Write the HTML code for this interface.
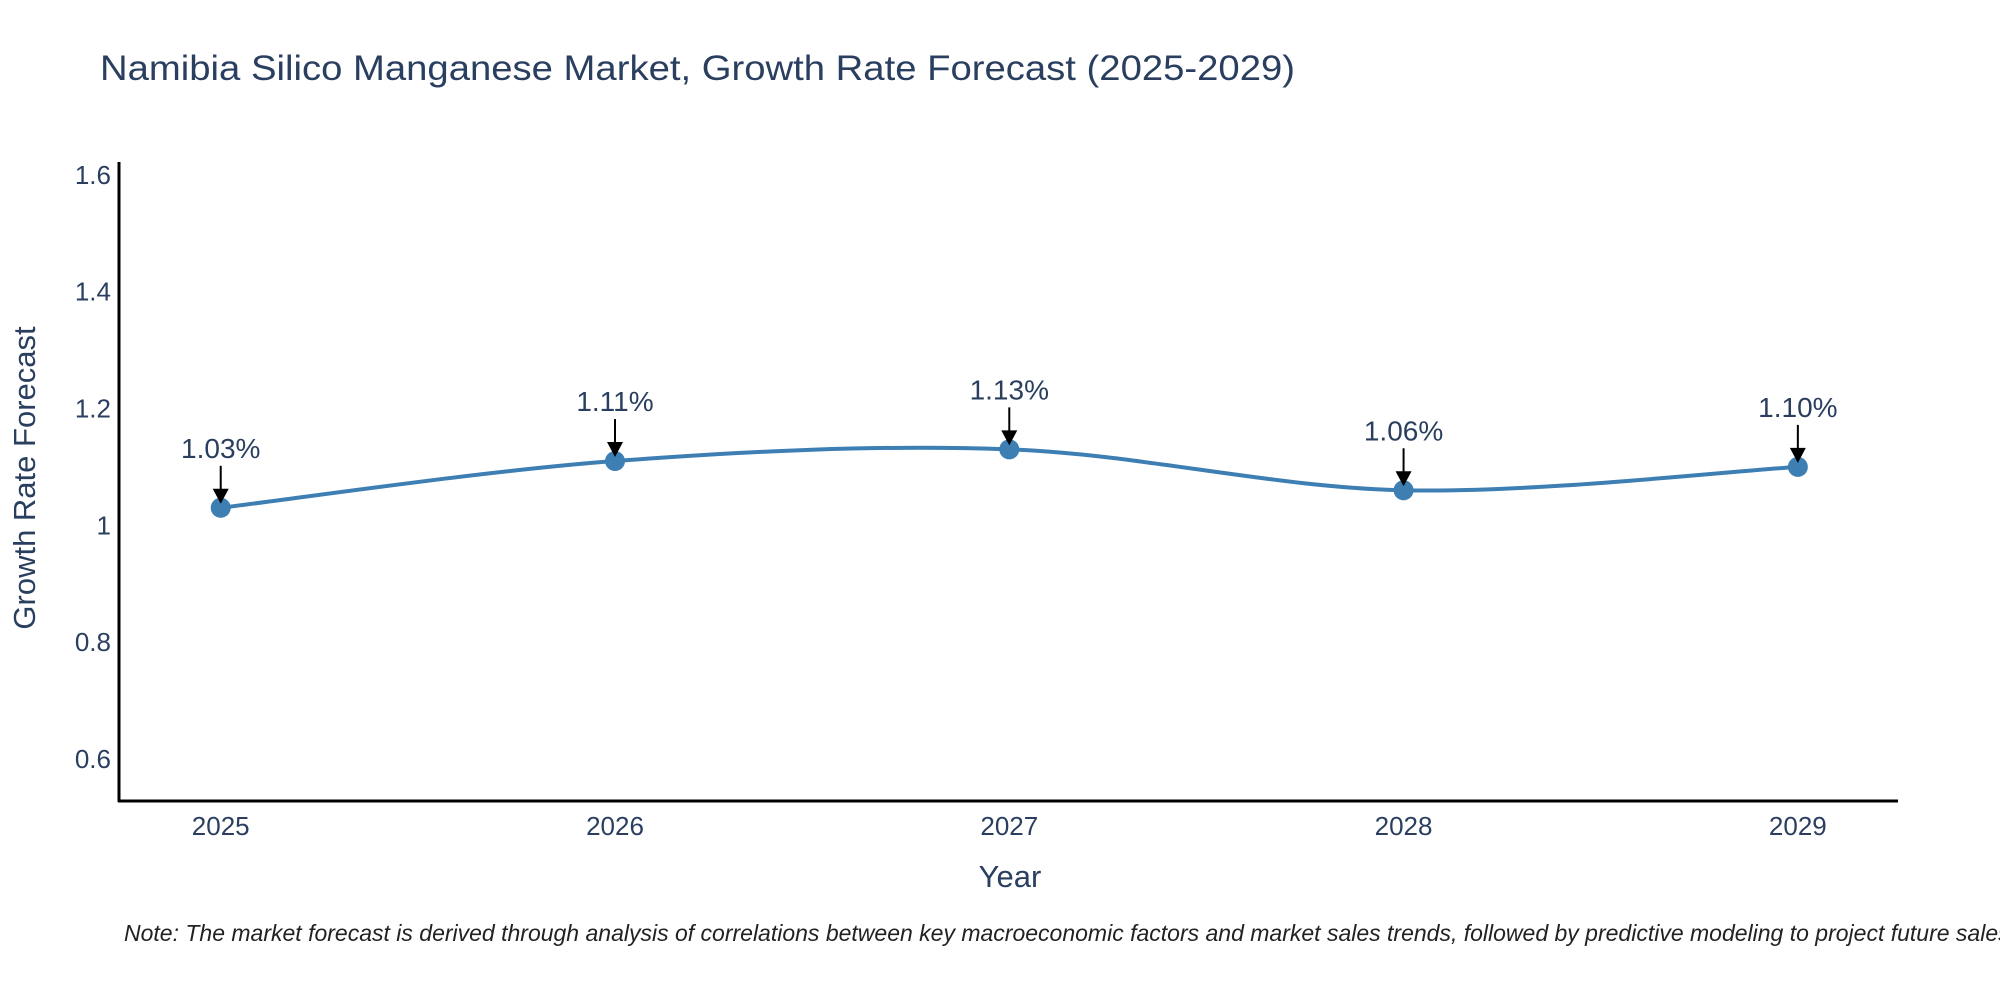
<!DOCTYPE html>
<html><head><meta charset="utf-8"><style>
html,body{margin:0;padding:0;background:#fff;width:2000px;height:1000px;overflow:hidden}
svg text{font-family:"Liberation Sans",sans-serif}
</style></head><body>
<svg id="chart" width="2000" height="1000" viewBox="0 0 2000 1000" xmlns="http://www.w3.org/2000/svg">
<text x="100" y="80" font-size="35" fill="#2a3f5f" textLength="1195" lengthAdjust="spacingAndGlyphs">Namibia Silico Manganese Market, Growth Rate Forecast (2025-2029)</text>
<g id="yticks"></g>
<g id="xticks"></g>
<line x1="119" y1="162" x2="119" y2="802" stroke="#000" stroke-width="3"/>
<line x1="118" y1="801" x2="1898" y2="801" stroke="#000" stroke-width="3"/>
<text transform="translate(35,478) rotate(-90)" text-anchor="middle" font-size="31" fill="#2a3f5f">Growth Rate Forecast</text>
<text x="1010" y="887" text-anchor="middle" font-size="31" fill="#2a3f5f">Year</text>
<g id="series"></g>
<g id="annots"></g>
<text x="124" y="941" font-size="23" font-style="italic" fill="#222">Note: The market forecast is derived through analysis of correlations between key macroeconomic factors and market sales trends, followed by predictive modeling to project future sales.</text>
</svg>
<script>
const years = [2025, 2026, 2027, 2028, 2029];
const values = [1.03, 1.11, 1.13, 1.06, 1.10];
const labels = ["1.03%", "1.11%", "1.13%", "1.06%", "1.10%"];
const yTickVals = [0.6, 0.8, 1.0, 1.2, 1.4, 1.6];
const yTickLabels = ["0.6", "0.8", "1", "1.2", "1.4", "1.6"];

const NS = "http://www.w3.org/2000/svg";
const X0 = 2025 - 0.259, X1 = 2029 + 0.254, PX0 = 118.6, PX1 = 1898;
const Y0 = 0.528, Y1 = 1.622, PY0 = 801, PY1 = 162;
function xs(v){return PX0 + (v - X0) / (X1 - X0) * (PX1 - PX0);}
function ys(v){return PY0 - (v - Y0) / (Y1 - Y0) * (PY0 - PY1);}
function mk(tag, attrs, parent){const e=document.createElementNS(NS,tag);for(const k in attrs)e.setAttribute(k,attrs[k]);parent.appendChild(e);return e;}

const yt = document.getElementById('yticks');
yTickVals.forEach((v,i)=>{
  const t = mk('text',{x:111,y:ys(v)+9,'text-anchor':'end','font-size':26,fill:'#2a3f5f'},yt);
  
  
  t.textContent = yTickLabels[i];
});
const xt = document.getElementById('xticks');
years.forEach(y=>{
  const t = mk('text',{x:xs(y),y:835,'text-anchor':'middle','font-size':26,fill:'#2a3f5f'},xt);
  
  
  t.textContent = String(y);
});

const pts = years.map((y,i)=>[xs(y), ys(values[i])]);
let d = "M" + pts[0][0] + "," + pts[0][1];
const k = 1/6;
for (let i=0;i<pts.length-1;i++){
  const p0 = pts[Math.max(0,i-1)], p1 = pts[i], p2 = pts[i+1], p3 = pts[Math.min(pts.length-1,i+2)];
  const c1 = [p1[0]+(p2[0]-p0[0])*k, p1[1]+(p2[1]-p0[1])*k];
  const c2 = [p2[0]-(p3[0]-p1[0])*k, p2[1]-(p3[1]-p1[1])*k];
  d += " C"+c1[0]+","+c1[1]+" "+c2[0]+","+c2[1]+" "+p2[0]+","+p2[1];
}
const sg = document.getElementById('series');
const line = mk('path',{d:d,fill:'none',stroke:'#3d7eb3','stroke-width':4},sg);


pts.forEach(p=>{
  const c = mk('circle',{cx:p[0],cy:p[1],r:10,fill:'#3d7eb3'},sg);
  
  
});

const ag = document.getElementById('annots');
pts.forEach((p,i)=>{
  const l = mk('line',{x1:p[0],y1:p[1]-42,x2:p[0],y2:p[1]-14,stroke:'#000','stroke-width':2},ag);
  
  
  const h = mk('polygon',{points:(p[0]-8)+","+(p[1]-19)+" "+(p[0]+8)+","+(p[1]-19)+" "+p[0]+","+(p[1]-4),fill:'#000'},ag);
  
  
  const t = mk('text',{x:p[0],y:p[1]-50,'text-anchor':'middle','font-size':28,fill:'#2a3f5f'},ag);
  
  
  t.textContent = labels[i];
});
</script>
</body></html>
